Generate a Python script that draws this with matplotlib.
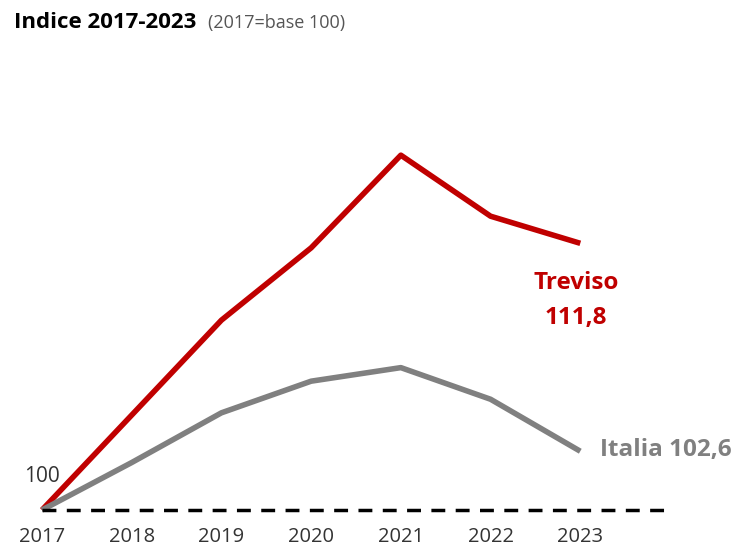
import matplotlib.pyplot as plt

plt.rcParams['font.family'] = ['Open Sans', 'DejaVu Sans']

anni = [2017, 2018, 2019, 2020, 2021, 2022, 2023]
treviso = [100, 104.2, 108.4, 111.6, 115.7, 113.0, 111.8]
italia = [100, 102.1, 104.3, 105.7, 106.3, 104.9, 102.6]

rosso = '#c00000'
grigio = '#808080'

fig = plt.figure(figsize=(7.38, 5.49), dpi=100)
ax = fig.add_axes([42 / 738, 39 / 549, 628 / 738, 452 / 549])

ax.plot(anni, treviso, color=rosso, lw=4, solid_capstyle='butt', clip_on=False)
ax.plot(anni, italia, color=grigio, lw=4, solid_capstyle='butt', clip_on=False)
ax.plot([2017, 2024], [100, 100], color='black', lw=2.5, ls=(0, (4, 3)), clip_on=False)

ax.set_xlim(2017, 2024)
ax.set_ylim(100, 120)
for s in ax.spines.values():
    s.set_visible(False)
ax.set_yticks([])
ax.set_xticks(anni)
ax.set_xticklabels([str(a) for a in anni], fontsize=14.5, color='#333333')
ax.tick_params(axis='x', length=0, pad=12)

ax.text(2017, 101.5, '100', ha='center', va='center', fontsize=15, color='#333333')
ax.text(2022.95, 110.05, 'Treviso', ha='center', va='center',
        fontsize=17.5, fontweight='bold', color=rosso)
ax.text(2022.95, 108.5, '111,8', ha='center', va='center',
        fontsize=17.5, fontweight='bold', color=rosso)
ax.text(2023.22, 102.65, 'Italia 102,6', ha='left', va='center',
        fontsize=17.5, fontweight='bold', color=grigio)

fig.text(14 / 738, 1 - 22 / 549, 'Indice 2017-2023', ha='left', va='center',
         fontsize=16, fontweight='bold', color='black')
fig.text(208 / 738, 1 - 23 / 549, '(2017=base 100)', ha='left', va='center',
         fontsize=13, color='#555555')

fig.savefig('out.png', dpi=100)
